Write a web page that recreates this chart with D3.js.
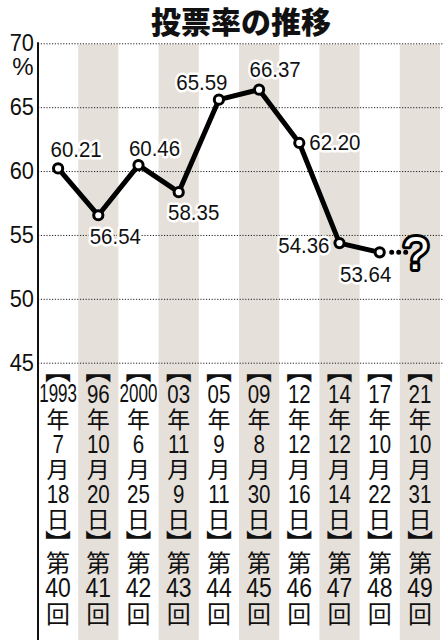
<!DOCTYPE html>
<meta charset="utf-8">
<style>
body { margin: 0; background: #fff; }
svg { display: block; }
.grid line { stroke: #222; stroke-width: 1; stroke-dasharray: 1.2,1.6; }
.grid .domain { display: none; }
.yaxis .domain, .yaxis line { display: none; }
.yaxis text { font-family: "Liberation Sans", sans-serif; font-size: 23px; fill: #111; }
.val { font-family: "Liberation Sans", sans-serif; font-size: 22px; fill: #111;
  stroke: #fff; stroke-width: 5px; stroke-linejoin: round; paint-order: stroke; }
.num { font-family: "Liberation Sans", sans-serif; fill: #111; }
.kanji { font-family: "Noto Sans CJK JP", sans-serif; fill: #111; }
</style>
<svg width="444" height="640"></svg>
<script src="https://d3js.org/d3.v7.min.js"></script>
<script>

// data
var years = ["1993", "96", "2000", "03", "05", "09", "12", "14", "17", "21"];
var months = ["7", "10", "6", "11", "9", "8", "12", "12", "10", "10"];
var days = ["18", "20", "25", "9", "11", "30", "16", "14", "22", "31"];
var sessions = ["40", "41", "42", "43", "44", "45", "46", "47", "48", "49"];
var turnout = [60.21, 56.54, 60.46, 58.35, 65.59, 66.37, 62.20, 54.36, 53.64];
var yTicks = [70, 65, 60, 55, 50, 45];

// label placement (layout only)
var labelPlace = [
  {dx: 18, dy: -19, a: "middle"},
  {dx: 17, dy: 21, a: "middle"},
  {dx: 16, dy: -16, a: "middle"},
  {dx: 15, dy: 21, a: "middle"},
  {dx: -17, dy: -17, a: "middle"},
  {dx: 16, dy: -20, a: "middle"},
  {dx: 10, dy: 0, a: "start"},
  {dx: -10, dy: 3, a: "end"},
  {dx: -14, dy: 22, a: "middle"}
];

var svg = d3.select("svg"),
    W = +svg.attr("width"),
    H = +svg.attr("height"),
    pLeft = 38, pRight = 440, pTop = 43.3, pBottom = 362.7;

var x = d3.scaleBand()
    .domain(d3.range(years.length))
    .range([pLeft, pRight])
    .padding(0);

var y = d3.scaleLinear()
    .domain([45, 70])
    .range([pBottom, pTop]);

var cx = function(i) { return x(i) + x.bandwidth() / 2; };

// stripes
svg.append("g").selectAll("rect")
  .data(d3.range(years.length).filter(function(i) { return i % 2 == 1; }))
  .enter().append("rect")
    .attr("x", function(i) { return x(i); })
    .attr("y", pTop + 1)
    .attr("width", x.bandwidth())
    .attr("height", H - pTop)
    .attr("fill", "#e6e0da");

// grid
svg.append("g")
    .attr("class", "grid")
    .attr("transform", "translate(" + pLeft + ",0)")
    .call(d3.axisRight(y).tickValues(yTicks).tickSize(W - pLeft).tickFormat(""));

// y labels
var ya = svg.append("g")
    .attr("class", "yaxis")
    .attr("transform", "translate(34,0)")
    .call(d3.axisLeft(y).tickValues(yTicks).tickSize(0));
ya.selectAll("text")
    .attr("x", 0)
    .attr("dy", null)
    .attr("dominant-baseline", "central")
    .attr("transform", "scale(0.95,1)");

svg.append("text")
    .attr("x", 23)
    .attr("y", y(70) + 23)
    .attr("text-anchor", "middle")
    .attr("dominant-baseline", "central")
    .style("font-family", "Liberation Sans, sans-serif")
    .style("font-size", "24px")
    .attr("fill", "#111")
    .text("%");

// axis line
svg.append("line")
    .attr("x1", pLeft).attr("x2", pLeft)
    .attr("y1", pTop - 1).attr("y2", H)
    .attr("stroke", "#111")
    .attr("stroke-width", 2);

// line
var line = d3.line()
    .x(function(d, i) { return cx(i); })
    .y(function(d) { return y(d); });

svg.append("path")
    .datum(turnout)
    .attr("fill", "none")
    .attr("stroke", "#000")
    .attr("stroke-width", 5)
    .attr("stroke-linejoin", "round")
    .attr("d", line);

// dotted continuation to next election
var last = turnout.length - 1;
svg.append("line")
    .attr("x1", cx(last) + 12)
    .attr("x2", cx(last + 1) - 13)
    .attr("y1", y(turnout[last]))
    .attr("y2", y(turnout[last]))
    .attr("stroke", "#000")
    .attr("stroke-width", 5)
    .attr("stroke-linecap", "round")
    .attr("stroke-dasharray", "0,7");

// markers
svg.append("g").selectAll("circle")
  .data(turnout)
  .enter().append("circle")
    .attr("cx", function(d, i) { return cx(i); })
    .attr("cy", function(d) { return y(d); })
    .attr("r", 4.6)
    .attr("fill", "#fff")
    .attr("stroke", "#000")
    .attr("stroke-width", 3);

// value labels
var fmt = d3.format(".2f");
svg.append("g").selectAll("text")
  .data(turnout)
  .enter().append("text")
    .attr("class", "val")
    .attr("text-anchor", function(d, i) { return labelPlace[i].a; })
    .attr("dominant-baseline", "central")
    .attr("transform", function(d, i) {
      return "translate(" + (cx(i) + labelPlace[i].dx) + "," + (y(d) + labelPlace[i].dy) + ") scale(0.93,1)";
    })
    .text(function(d) { return fmt(d); });

// question mark
var qx = cx(last + 1) - 4, qy = y(turnout[last]) + 1;
svg.append("text")
    .attr("x", qx).attr("y", qy)
    .attr("text-anchor", "middle")
    .attr("dominant-baseline", "central")
    .style("font-family", "Liberation Sans, sans-serif")
    .style("font-size", "46px")
    .attr("fill", "#000")
    .attr("stroke", "#000")
    .attr("stroke-width", 6)
    .attr("stroke-linejoin", "round")
    .text("?");
svg.append("text")
    .attr("x", qx).attr("y", qy)
    .attr("text-anchor", "middle")
    .attr("dominant-baseline", "central")
    .style("font-family", "Liberation Sans, sans-serif")
    .style("font-size", "46px")
    .attr("fill", "#fff")
    .text("?");

// vertical date / session labels
var rows = [
  {t: "︻", y: 368, k: true, s: 26},
  {t: years, y: 394, s: 25},
  {t: "年", y: 417.5, k: true, s: 23},
  {t: months, y: 444, s: 25},
  {t: "月", y: 468, k: true, s: 23},
  {t: days, y: 494, s: 25},
  {t: "日", y: 518, k: true, s: 23},
  {t: "︼", y: 541, k: true, s: 26},
  {t: "第", y: 561.5, k: true, s: 24},
  {t: sessions, y: 587, s: 28},
  {t: "回", y: 612, k: true, s: 24}
];

rows.forEach(function(r) {
  var g = svg.append("g");
  var t = g.selectAll("text")
    .data(d3.range(years.length))
    .enter().append("text")
      .attr("class", r.k ? "kanji" : "num")
      .attr("text-anchor", "middle")
      .attr("dominant-baseline", "central")
      .style("font-size", r.s + "px")
      .text(function(i) { return typeof r.t === "string" ? r.t : r.t[i]; });
  if (r.k) {
    t.attr("x", function(i) { return cx(i); }).attr("y", r.y);
  } else {
    t.attr("transform", function(i) {
      var s = r.t[i].length > 2 ? 0.68 : 0.82;
      return "translate(" + cx(i) + "," + r.y + ") scale(" + s + ",1)";
    });
  }
});

// title
svg.append("text")
    .attr("class", "kanji")
    .attr("x", 241)
    .attr("y", 20)
    .attr("text-anchor", "middle")
    .attr("dominant-baseline", "central")
    .style("font-size", "30px")
    .style("font-weight", "900")
    .text("投票率の推移");

</script>
